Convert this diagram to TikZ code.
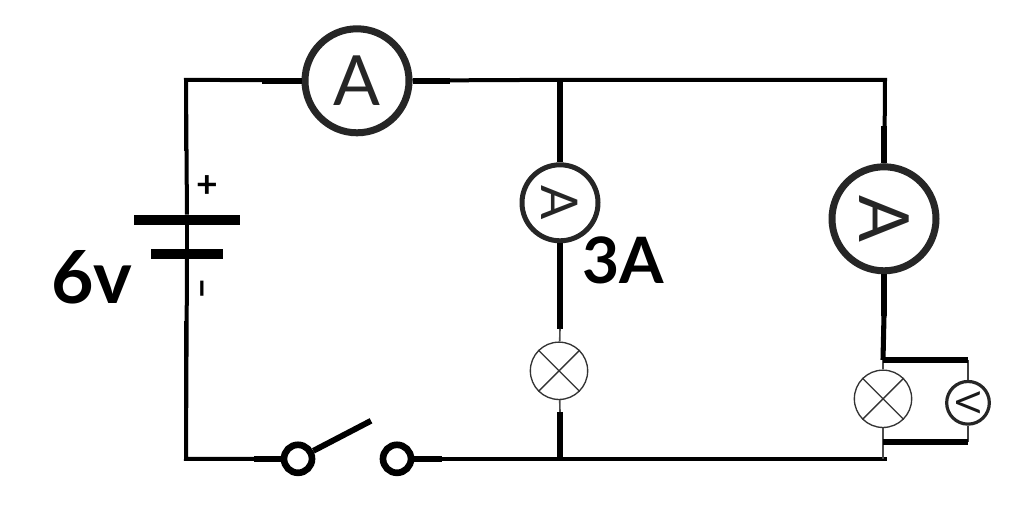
\documentclass[tikz,border=0pt]{standalone}
\usepackage{fontspec}
\setmainfont{Lato}
\usepackage{tikz}
\tikzstyle{meterbig} = [circle, draw=black!85, line width=5.25pt, minimum size=78pt, inner sep=0pt, font=\fontsize{52}{52}\selectfont, text=black!85]
\tikzstyle{metermid} = [circle, draw=black!85, line width=3.75pt, minimum size=57pt, inner sep=0pt, font=\fontsize{38}{38}\selectfont, text=black!85]
\tikzstyle{metersmall} = [circle, draw=black!85, line width=2.4pt, minimum size=32pt, inner sep=0pt, font=\fontsize{25}{25}\selectfont, text=black!90]
\tikzstyle{lamp} = [circle, cross out, draw=black!80, line width=1pt, minimum size=30pt, inner sep=0pt]
\tikzstyle{lampring} = [circle, draw=black!80, line width=1pt, minimum size=43pt, inner sep=0pt]
\tikzstyle{contact} = [circle, draw=black, line width=5pt, minimum size=21pt, inner sep=0pt]
\tikzstyle{plate} = [rectangle, fill=black, inner sep=0pt]
\tikzstyle{label} = [font=\bfseries\fontsize{55}{55}\selectfont, inner sep=0pt]
\tikzstyle{sign} = [font=\bfseries\fontsize{28}{28}\selectfont, inner sep=0pt]
\tikzstyle{wire} = [line width=3pt, black]
\tikzstyle{stub} = [line width=4.6pt, black]
\tikzstyle{thin} = [line width=1.2pt, black!70]
\usetikzlibrary{shapes.misc}

\begin{document}
\begin{tikzpicture}[x=0.75pt, y=-0.75pt]
\useasboundingbox (0,-0.8) rectangle (1014,513.2);

% corners and joints
\coordinate (tl) at (186,79);
\coordinate (tm) at (560,79);
\coordinate (tr) at (885,79);
\coordinate (bl) at (186,458);
\coordinate (bm) at (560,458);
\coordinate (br) at (887,458);
\coordinate (vtop) at (883,359);
\coordinate (vbot) at (883,441);
\coordinate (vtopr) at (968,359);
\coordinate (vbotr) at (968,441);

% meters
\node (am1) [meterbig] at (357,80) {A};
\node (am2) [metermid, rotate=-90] at (560,202) {A};
\node (am3) [meterbig, rotate=-90] at (884,218) {A};
\node (vm) [metersmall, rotate=-90] at (968,402) {V};

% lamps
\node (lamp1) [lampring] at (559,370) {};
\node (cross1) [lamp] at (559,370) {};
\node (lamp2) [lampring] at (883,398) {};
\node (cross2) [lamp] at (883,398) {};

% battery
\node (bat1) [plate, minimum width=79pt, minimum height=7.5pt] at (187,219) {};
\node (bat2) [plate, minimum width=54pt, minimum height=7.5pt] at (187,253) {};

% switch
\node (sw1) [contact] at (298,458) {};
\node (sw2) [contact] at (397,458) {};
\coordinate (swend) at (371,420);

% labels
\node (volts) [label] at (92,276) {6v};
\node (amps) [label, font=\bfseries\fontsize{48}{48}\selectfont] at (623,260) {3A};
\node (plus) [sign] at (207,186) {+};
\node (minus) [sign, rotate=90] at (207,288) {–};

% wires
\draw [wire] (bat1) -- (tl) -- (am1);
\draw [wire] (am1) -- (tm) -- (tr) -- (am3);
\draw [wire] (bat2) -- (bl) -- (sw1);
\draw [wire] (sw2) -- (bm) -- (br);
\draw [wire] (bat1) -- (bat2);
\draw [line width=3.6pt] (tl) -- (186,150);
\draw [line width=3.6pt] (186,320) -- (bl);
\draw [line width=4.4pt] (tm) -- (am2);
\draw [line width=4.4pt] (am2) -- (560,328);
\draw [thin] (560,328) -- (lamp1);
\draw [thin] (lamp1) -- (560,411);
\draw [line width=4.4pt] (560,411) -- (bm);
\draw [stub] (884,125) -- (am3);
\draw [stub] (am3) -- (884,315);
\draw [line width=3.8pt] (884,315) -- (vtop);
\draw [thin] (vtop) -- (lamp2);
\draw [thin] (lamp2) -- (vbot);
\draw [thin] (vbot) -- (883,458);
\draw [line width=1.8pt, black!75] (vtopr) -- (vm);
\draw [line width=1.8pt, black!75] (vm) -- (vbotr);
\draw [stub] (vtop) -- (vtopr);
\draw [stub] (vbot) -- (vbotr);
\draw [stub] (262,80) -- (am1);
\draw [stub] (am1) -- (450,80);
\draw [line width=4.4pt] (254,458) -- (sw1);
\draw [line width=4.4pt] (sw2) -- (442,458);
\draw [line width=4.4pt] (sw1) -- (swend);

\end{tikzpicture}
\end{document}
